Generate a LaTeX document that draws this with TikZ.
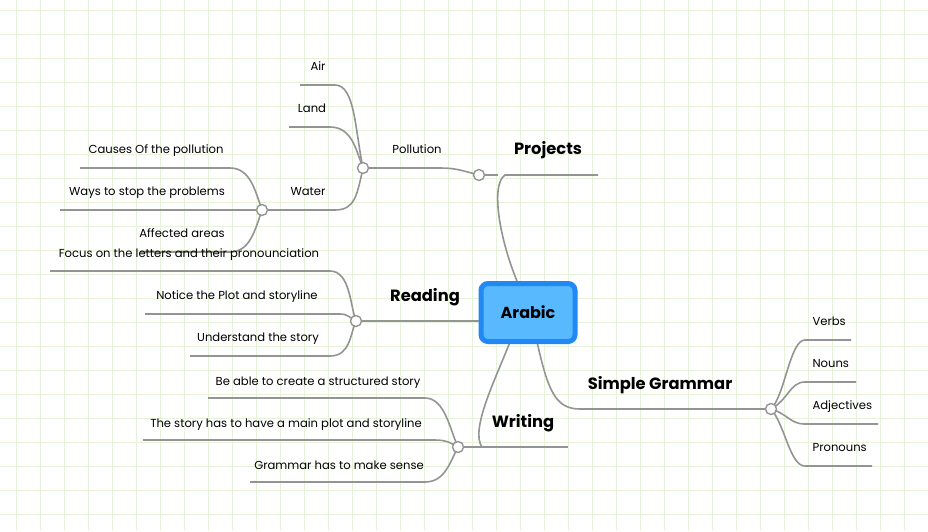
\documentclass[tikz,border=0pt]{standalone}
\usepackage{fontspec}
\setmainfont{Poppins}
\definecolor{gridc}{RGB}{230,242,218}
\definecolor{bord}{RGB}{33,137,245}
\definecolor{inn}{RGB}{88,185,255}
\begin{document}
\begin{tikzpicture}[x=1pt,y=-1pt,
  br/.style={draw=black!42,line width=1.6pt},
  jn/.style={circle,draw=black!42,line width=1.4pt,fill=white,minimum size=11pt,inner sep=0pt},
  lbl/.style={font=\fontsize{11.6}{13}\selectfont,anchor=base},
  top/.style={font=\bfseries\fontsize{16.3}{18}\selectfont,anchor=base}]
\useasboundingbox (0,0) rectangle (928,531);
\fill[white] (0,0) rectangle (928,531);
\foreach \x in {16,40,...,928} \draw[gridc,line width=0.7pt] (\x,0)--(\x,531);
\foreach \y in {10,34,...,531} \draw[gridc,line width=0.7pt] (0,\y)--(928,\y);
\coordinate (jP) at (479,175); \coordinate (jPo) at (363,168); \coordinate (jW) at (262,210);
\coordinate (jR) at (356,321); \coordinate (jWr) at (458,447); \coordinate (jG) at (771,409);
% Projects
\draw[br] (517,281) .. controls (500,240) and (490,185) .. (505,175) -- (598,175);
\draw[br] (jP) -- (498,175);
\draw[br] (jP) .. controls (460,170) and (455,168) .. (440,168) -- (jPo);
\draw[br] (300,85) -- (335,85) .. controls (355,85) and (355,130) .. (jPo);
\draw[br] (289,127) -- (330,127) .. controls (352,127) and (356,150) .. (jPo);
\draw[br] (jPo) .. controls (357,195) and (355,210) .. (335,210) -- (jW);
\draw[br] (80,168) -- (230,168) .. controls (250,168) and (255,190) .. (jW);
\draw[br] (60,210) -- (jW);
\draw[br] (140,252) -- (230,252) .. controls (250,252) and (255,230) .. (jW);
% Reading
\draw[br] (479,321) -- (jR);
\draw[br] (50,271) -- (330,271) .. controls (350,271) and (350,305) .. (jR);
\draw[br] (145,314) -- (340,314) .. controls (348,314) and (350,318) .. (jR);
\draw[br] (190,356) -- (330,356) .. controls (350,356) and (350,335) .. (jR);
% Writing
\draw[br] (510,342) .. controls (495,380) and (470,430) .. (482,447);
\draw[br] (jWr) -- (568,447);
\draw[br] (208,398) -- (425,398) .. controls (445,398) and (450,430) .. (jWr);
\draw[br] (143,440) -- (435,440) .. controls (448,440) and (452,444) .. (jWr);
\draw[br] (250,482) -- (425,482) .. controls (445,482) and (450,462) .. (jWr);
% Grammar
\draw[br] (537,342) .. controls (548,390) and (555,409) .. (580,409) -- (jG);
\draw[br] (851,340) -- (805,340) .. controls (790,340) and (785,395) .. (jG);
\draw[br] (856,382) -- (805,382) .. controls (790,382) and (788,400) .. (jG);
\draw[br] (878,424) -- (805,424) .. controls (790,424) and (788,414) .. (jG);
\draw[br] (872,466) -- (805,466) .. controls (790,466) and (785,425) .. (jG);
\foreach \j in {jP,jPo,jW,jR,jWr,jG} \node[jn] at (\j) {};
% labels
\node[lbl] at (318,70) {Air};
\node[lbl] at (312,112) {Land};
\node[lbl] at (417,153) {Pollution};
\node[lbl] at (308,195) {Water};
\node[lbl] at (156,153) {Causes Of the pollution};
\node[lbl] at (147,195) {Ways to stop the problems};
\node[lbl] at (182,237) {Affected areas};
\node[lbl] at (189,257) {Focus on the letters and their pronounciation};
\node[lbl] at (237,299) {Notice the Plot and storyline};
\node[lbl] at (258,341) {Understand the story};
\node[lbl] at (318,385) {Be able to create a structured story};
\node[lbl] at (286,427) {The story has to have a main plot and storyline};
\node[lbl] at (339,469) {Grammar has to make sense};
\node[lbl,anchor=base west] at (809,325) {Verbs};
\node[lbl,anchor=base west] at (809,367) {Nouns};
\node[lbl,anchor=base west] at (809,409) {Adjectives};
\node[lbl,anchor=base west] at (809,451) {Pronouns};
\node[top] at (548,154) {Projects};
\node[top] at (425,301) {Reading};
\node[top] at (523,427) {Writing};
\node[top] at (660,389) {Simple Grammar};
\node[draw=bord,line width=5pt,fill=inn,rounded corners=7pt,
  minimum width=94pt,minimum height=58pt,font=\bfseries\fontsize{16}{18}\selectfont] (arabic) at (528,312.5) {Arabic};
\end{tikzpicture}
\end{document}
